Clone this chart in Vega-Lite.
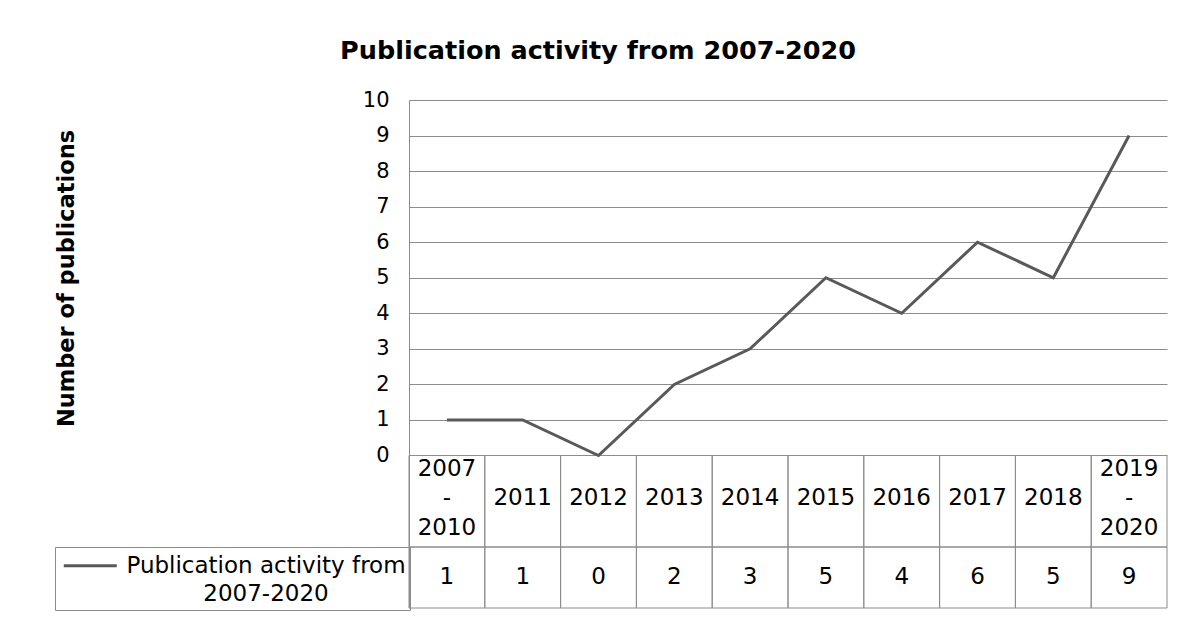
{
  "$schema": "https://vega.github.io/schema/vega-lite/v6.json",
  "autosize": "none",
  "width": 758,
  "height": 508,
  "padding": {"left": 409, "top": 100, "right": 17, "bottom": 9},
  "background": "white",
  "config": {
    "font": "DejaVu Sans",
    "view": {"stroke": null},
    "style": {"guide-label": {"lineHeight": 28}}
  },
  "title": {
    "text": "Publication activity from 2007-2020",
    "fontSize": 25.5,
    "fontWeight": "bold",
    "color": "#000000",
    "anchor": "middle",
    "frame": "group",
    "dx": -190,
    "baseline": "alphabetic",
    "offset": 5
  },
  "data": {
    "values": [
      {"period": "2007-2010", "n": 1},
      {"period": "2011", "n": 1},
      {"period": "2012", "n": 0},
      {"period": "2013", "n": 2},
      {"period": "2014", "n": 3},
      {"period": "2015", "n": 5},
      {"period": "2016", "n": 4},
      {"period": "2017", "n": 6},
      {"period": "2018", "n": 5},
      {"period": "2019-2020", "n": 9}
    ]
  },
  "layer": [
    {
      "mark": {"type": "rect", "fill": null, "stroke": "#8c8c8c", "strokeWidth": 1},
      "encoding": {
        "x": {"field": "period", "type": "ordinal", "sort": null, "axis": null,
              "scale": {"type": "band", "paddingInner": 0, "paddingOuter": 0}},
        "y": {"datum": 0, "type": "quantitative", "scale": {"domain": [-4.29, 10], "nice": false, "zero": false}},
        "y2": {"datum": -2.574}
      }
    },
    {
      "mark": {"type": "rect", "fill": null, "stroke": "#8c8c8c", "strokeWidth": 1},
      "encoding": {
        "x": {"field": "period", "type": "ordinal", "sort": null, "axis": null},
        "y": {"datum": -2.574, "type": "quantitative", "scale": {"domain": [-4.29, 10], "nice": false, "zero": false}},
        "y2": {"datum": -4.29}
      }
    },
    {
      "mark": {"type": "line", "strokeWidth": 3},
      "encoding": {
        "x": {"field": "period", "type": "ordinal", "sort": null, "axis": null, "bandPosition": 0.5},
        "y": {
          "field": "n", "type": "quantitative",
          "title": "Number of publications",
          "scale": {"domain": [-4.29, 10], "nice": false, "zero": false},
          "axis": {
            "values": [0, 1, 2, 3, 4, 5, 6, 7, 8, 9, 10],
            "grid": true,
            "gridColor": "#8c8c8c",
            "gridOpacity": 1,
            "gridWidth": 1,
            "domain": true,
            "domainColor": "#8c8c8c",
            "ticks": false,
            "labelFontSize": 21,
            "labelColor": "#000000",
            "labelPadding": 20,
            "titleFontSize": 22.5,
            "titleFontWeight": "bold",
            "titleColor": "#000000",
            "titleX": -343,
            "titleY": 178,
            "titleAngle": -90,
            "titleAlign": "center",
            "titleBaseline": "middle"
          }
        },
        "stroke": {
          "datum": "Publication activity from 2007-2020",
          "type": "nominal",
          "scale": {"range": ["#595959"]},
          "legend": {
            "title": null,
            "orient": "none",
            "legendX": -354,
            "legendY": 447,
            "strokeColor": "#8c8c8c",
            "padding": 3.75,
            "symbolType": "M-2,0H2",
            "symbolSize": 702.25,
            "symbolOffset": 16.5,
            "symbolStrokeWidth": 3,
            "labelFontSize": 23,
            "labelColor": "#000000",
            "labelAlign": "center",
            "labelOffset": 160.75,
            "labelLimit": 0,
            "labelExpr": "['Publication activity from', '2007-2020']"
          }
        }
      }
    },
    {
      "transform": [
        {"filter": "indexof(datum.period, '-') > 0"},
        {"calculate": "replace(datum.period, '-', '\\n-\\n')", "as": "lab"}
      ],
      "mark": {"type": "text", "fontSize": 23, "color": "#000000", "lineBreak": "\n", "lineHeight": 29.5, "baseline": "middle"},
      "encoding": {
        "x": {"field": "period", "type": "ordinal", "sort": null, "axis": null, "bandPosition": 0.5},
        "y": {"datum": -0.366, "type": "quantitative", "scale": {"domain": [-4.29, 10], "nice": false, "zero": false}},
        "text": {"field": "lab", "type": "nominal"}
      }
    },
    {
      "transform": [
        {"filter": "indexof(datum.period, '-') < 0"}
      ],
      "mark": {"type": "text", "fontSize": 23, "color": "#000000", "baseline": "middle"},
      "encoding": {
        "x": {"field": "period", "type": "ordinal", "sort": null, "axis": null, "bandPosition": 0.5},
        "y": {"datum": -1.2, "type": "quantitative", "scale": {"domain": [-4.29, 10], "nice": false, "zero": false}},
        "text": {"field": "period", "type": "nominal"}
      }
    },
    {
      "mark": {"type": "text", "fontSize": 23, "color": "#000000", "baseline": "middle"},
      "encoding": {
        "x": {"field": "period", "type": "ordinal", "sort": null, "axis": null, "bandPosition": 0.5},
        "y": {"datum": -3.43, "type": "quantitative", "scale": {"domain": [-4.29, 10], "nice": false, "zero": false}},
        "text": {"field": "n", "type": "quantitative"}
      }
    }
  ]
}
